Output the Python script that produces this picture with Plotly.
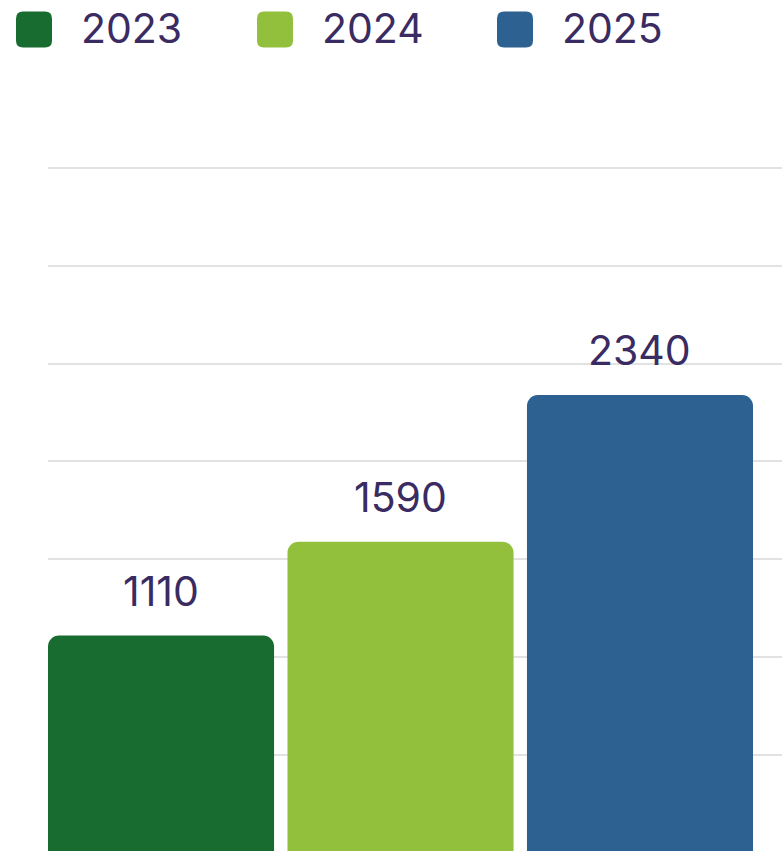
import plotly.graph_objects as go

years = ["2023", "2024", "2025"]
values = [1110, 1590, 2340]
colors = ["#186C2F", "#92C03D", "#2C6191"]

TEXT_COLOR = "#3A2B62"
FONT = "Inter"

# plot area in window pixels: left 48, top 148, right 782, bottom 851
L, T, R, B = 48, 148, 782, 851


def px_x(p):
    return (p - L) / (R - L)


def px_y(p):
    return 1 - (p - T) / (B - T)


def rounded_square(size, r):
    h = size / 2
    return (
        f"M {-h + r},{-h} L {h - r},{-h} Q {h},{-h} {h},{-h + r} "
        f"L {h},{h - r} Q {h},{h} {h - r},{h} L {-h + r},{h} "
        f"Q {-h},{h} {-h},{h - r} L {-h},{-h + r} Q {-h},{-h} {-h + r},{-h} Z"
    )


fig = go.Figure()

fig.add_trace(
    go.Bar(
        x=years,
        y=values,
        marker=dict(color=colors, line=dict(width=0)),
        width=0.944,
        showlegend=False,
        hoverinfo="skip",
    )
)

# value labels above the bars (category index, "2023" would be read as a number)
for i, v in enumerate(values):
    fig.add_annotation(
        x=i, y=v, text=str(v), showarrow=False,
        yanchor="bottom", yshift=18,
        font=dict(family=FONT, size=41, color=TEXT_COLOR),
    )

# custom legend: rounded squares + labels
legend_left = [16, 257, 497]
for yr, c, lx in zip(years, colors, legend_left):
    fig.add_shape(
        type="path",
        xref="paper", yref="paper",
        xsizemode="pixel", ysizemode="pixel",
        xanchor=px_x(lx + 18), yanchor=px_y(29.5),
        path=rounded_square(36, 7),
        fillcolor=c, line=dict(width=0),
    )
    fig.add_annotation(
        xref="paper", yref="paper",
        x=px_x(lx + 63), y=px_y(27.5),
        xanchor="left", yanchor="middle",
        text=yr, showarrow=False,
        font=dict(family=FONT, size=41, color=TEXT_COLOR),
    )

fig.update_layout(
    width=R,
    height=B,
    margin=dict(l=L, r=0, t=T, b=0),
    paper_bgcolor="#FFFFFF",
    plot_bgcolor="#FFFFFF",
    barcornerradius=11,
    showlegend=False,
    font=dict(family=FONT, color=TEXT_COLOR),
)

fig.update_xaxes(
    type="category",
    range=[-0.472, 2.593],
    showticklabels=False,
    showgrid=False,
    zeroline=False,
    showline=False,
    ticks="",
)

fig.update_yaxes(
    range=[9.2, 3602],
    tick0=0,
    dtick=500,
    showticklabels=False,
    showgrid=True,
    gridcolor="#E2E2E2",
    gridwidth=2,
    zeroline=False,
    showline=False,
    ticks="",
)

# drop the browser's default 8px body margin so the figure sits at 0,0
fig.write_html(
    "out.html",
    config={"displayModeBar": False},
    post_script="document.body.style.margin='0';",
)
